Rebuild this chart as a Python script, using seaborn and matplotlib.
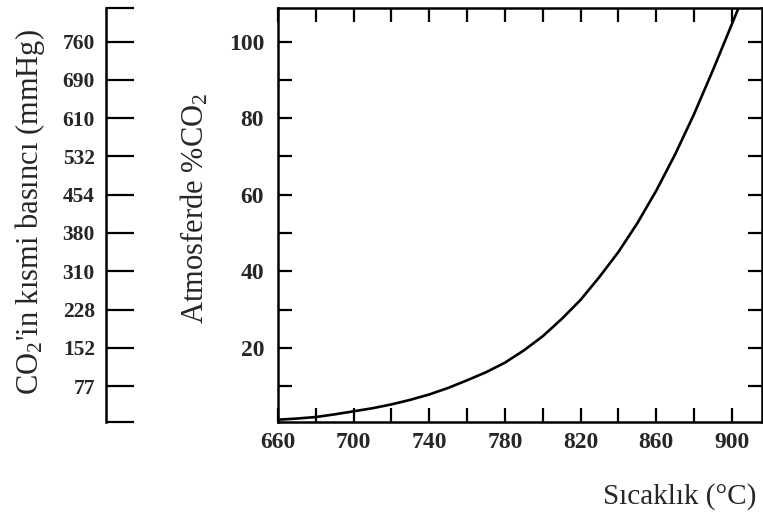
import matplotlib
matplotlib.use("Agg")
import matplotlib.pyplot as plt
from matplotlib.ticker import MultipleLocator, FixedLocator
import seaborn as sns
import pandas as pd

# ---- data ----
temperature_c = [660, 670, 680, 690, 700, 710, 720, 730, 740, 750, 760, 770, 780,
                 790, 800, 810, 820, 830, 840, 850, 860, 870, 880, 890, 900, 905]
co2_percent = [1.2, 1.5, 1.9, 2.6, 3.4, 4.2, 5.2, 6.4, 7.8, 9.5, 11.5, 13.6, 16.1,
               19.3, 23.0, 27.5, 32.5, 38.5, 45.0, 52.5, 61.0, 70.5, 81.0, 92.5, 104.5, 110.5]
x_tick_labels = [660, 700, 740, 780, 820, 860, 900]
y_tick_labels = [20, 40, 60, 80, 100]
pressure_positions = [10, 20, 30, 40, 50, 60, 70, 80, 90, 100]
pressure_labels = ["77", "152", "228", "310", "380", "454", "532", "610", "690", "760"]

sns.set_theme(style="ticks")
plt.rcParams["font.family"] = ["Liberation Serif", "DejaVu Serif"]
plt.rcParams["mathtext.fontset"] = "custom"
plt.rcParams["mathtext.rm"] = "Liberation Serif"
plt.rcParams["mathtext.it"] = "Liberation Serif"
plt.rcParams["mathtext.bf"] = "Liberation Serif:bold"

W, H = 763, 525
fig = plt.figure(figsize=(W / 100, H / 100), dpi=100)
fig.patch.set_facecolor("white")

left_px, right_px, top_px, bottom_px = 278, 762, 8, 422
ax = fig.add_axes([left_px / W, 1 - bottom_px / H, (right_px - left_px) / W, (bottom_px - top_px) / H])
ax.set_facecolor("white")

df = pd.DataFrame({"T": temperature_c, "pct": co2_percent})
sns.lineplot(data=df, x="T", y="pct", ax=ax, color="black", linewidth=1.9)

ymin, ymax = 0.6, 108.8
ax.set_xlim(660, 916)
ax.set_ylim(ymin, ymax)

ax.xaxis.set_major_locator(FixedLocator(x_tick_labels))
ax.xaxis.set_minor_locator(MultipleLocator(20))
ax.yaxis.set_major_locator(FixedLocator(y_tick_labels))
ax.yaxis.set_minor_locator(MultipleLocator(10))
ax.set_xticklabels([str(v) for v in x_tick_labels])
ax.set_yticklabels([str(v) for v in y_tick_labels])

for sp in ax.spines.values():
    sp.set_visible(True)
    sp.set_linewidth(1.8)
    sp.set_color("black")

ax.tick_params(which="both", direction="in", length=10, width=1.6, color="black",
               top=True, right=True, bottom=True, left=True)
ax.tick_params(axis="x", which="major", pad=7, labelsize=17)
ax.tick_params(axis="y", which="major", pad=10, labelsize=17)
for lbl in ax.get_xticklabels() + ax.get_yticklabels():
    lbl.set_fontweight("bold")
ax.set_xlabel("")
ax.set_ylabel("")

# ---- left pressure scale ----
lax_x = 106
lax = fig.add_axes([lax_x / W, 1 - bottom_px / H, 0.002, (bottom_px - top_px) / H])
lax.set_ylim(ymin, ymax)
lax.set_xticks([])
lax.patch.set_alpha(0)
for name in ["top", "right", "bottom"]:
    lax.spines[name].set_visible(False)
lax.spines["left"].set_linewidth(1.8)
lax.spines["left"].set_color("black")
lax.yaxis.set_major_locator(FixedLocator([ymin] + pressure_positions + [ymax]))
lax.set_yticklabels([""] + pressure_labels + [""])
lax.tick_params(axis="y", direction="in", length=20, width=1.6, color="black",
                pad=8, labelsize=15.5)
for lbl in lax.get_yticklabels():
    lbl.set_fontweight("bold")

# ---- axis titles ----
fig.text(195 / W, 1 - 208 / H, "Atmosferde %CO$_2$", rotation=90, ha="center", va="center",
         fontsize=22)
fig.text(30 / W, 1 - 212 / H, "CO$_2$'in kısmi basıncı (mmHg)", rotation=90, ha="center",
         va="center", fontsize=22)
fig.text(680 / W, 1 - 497 / H, "Sıcaklık (°C)", ha="center", va="center", fontsize=21)

fig.savefig("out.png", dpi=100, facecolor="white")
